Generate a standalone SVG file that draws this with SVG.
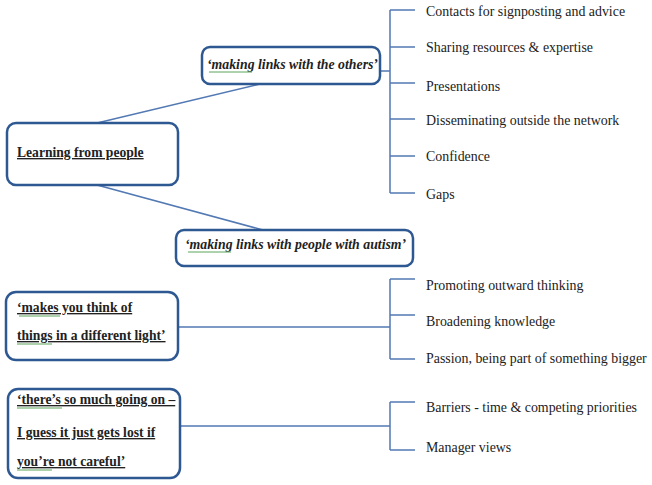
<svg xmlns="http://www.w3.org/2000/svg" width="652" height="485" viewBox="0 0 652 485">
<style>
.box{fill:#fff;stroke:#2E5892;stroke-width:2.5}
.ln{fill:none;stroke:#5279B3;stroke-width:1.5}
.item{font-family:"Liberation Serif","Times New Roman",serif;font-size:13.9px;fill:#222}
.bt{font-family:"Liberation Serif","Times New Roman",serif;font-size:13.6px;font-weight:bold;fill:#222;text-decoration:underline}
.it{font-family:"Liberation Serif","Times New Roman",serif;font-size:13.8px;font-weight:bold;font-style:italic;fill:#222}
.sp{stroke:#5AA55A;stroke-width:1;fill:none}
</style>
<rect width="652" height="485" fill="#fff"/>
<g id="connectors">
<path class="ln" d="M97,123 L260,84"/>
<path class="ln" d="M97,185 L263,230"/>
<path class="ln" d="M380,71 H390 M390,10 V193 M390,10 H415 M390,47 H415 M390,83 H415 M390,119 H415 M390,156 H415 M390,193 H415"/>
<path class="ln" d="M178,327 H390 M390,279 V359 M390,279 H415 M390,315 H415 M390,359 H415"/>
<path class="ln" d="M180,426 H390 M390,402 V450 M390,402 H415 M390,450 H415"/>
</g>
<g id="root">
<rect class="box" x="7" y="123" width="171" height="62" rx="9"/>
<text class="bt" x="17" y="157">Learning from people</text>
</g>
<g id="others">
<rect class="box" x="202" y="47" width="178" height="37" rx="8"/>
<text class="it" x="207" y="69">‘making links with the others’</text>
<path class="sp" d="M209,72 H252"/>
</g>
<g id="autism">
<rect class="box" x="176" y="230" width="237" height="36" rx="8"/>
<text class="it" x="185" y="249">‘making links with people with autism’</text>
<path class="sp" d="M188,252 H231"/>
</g>
<g id="think">
<rect class="box" x="6" y="292" width="172" height="68" rx="10"/>
<text class="bt" x="17" y="312">‘makes you think of</text>
<text class="bt" x="17" y="340">things in a different light’</text>
<path class="sp" d="M19,316 H60 M17,344 H52"/>
</g>
<g id="lost">
<rect class="box" x="8" y="389" width="172" height="89" rx="10"/>
<text class="bt" x="17" y="404">‘there’s so much going on –</text>
<text class="bt" x="17" y="437">I guess it just gets lost if</text>
<text class="bt" x="17" y="466">you’re not careful’</text>
<path class="sp" d="M17,408 H62 M17,470 H52"/>
</g>
<g id="items-others">
<text class="item" x="426" y="16">Contacts for signposting and advice</text>
<text class="item" x="426" y="52">Sharing resources &amp; expertise</text>
<text class="item" x="426" y="91">Presentations</text>
<text class="item" x="426" y="125">Disseminating outside the network</text>
<text class="item" x="426" y="161">Confidence</text>
<text class="item" x="426" y="199">Gaps</text>
</g>
<g id="items-think">
<text class="item" x="426" y="290">Promoting outward thinking</text>
<text class="item" x="426" y="326">Broadening knowledge</text>
<text class="item" x="426" y="363">Passion, being part of something bigger</text>
</g>
<g id="items-lost">
<text class="item" x="426" y="412">Barriers - time &amp; competing priorities</text>
<text class="item" x="426" y="452">Manager views</text>
</g>
</svg>
